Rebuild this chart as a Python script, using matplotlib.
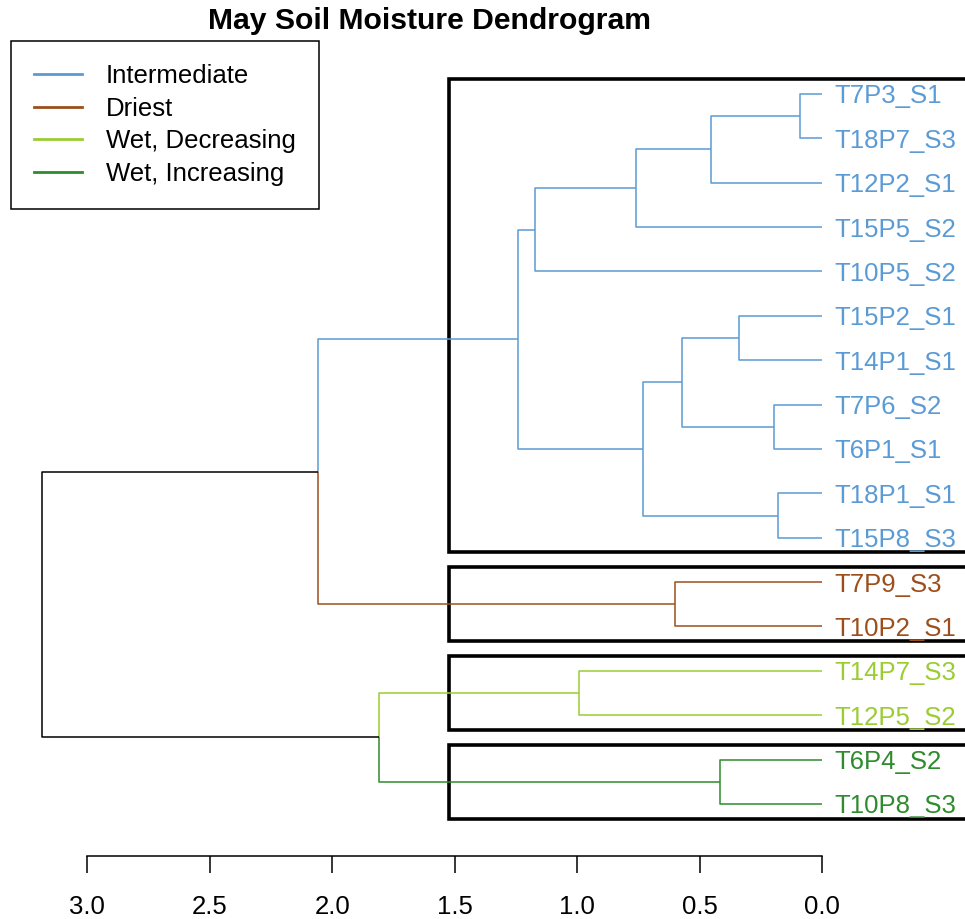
import matplotlib.pyplot as plt
from matplotlib.lines import Line2D
from matplotlib.patches import Rectangle

plt.rcParams['font.family'] = ['Liberation Sans', 'DejaVu Sans']

# leaves, top to bottom, as they sit in the dendrogram
labels = ["T7P3_S1", "T18P7_S3", "T12P2_S1", "T15P5_S2", "T10P5_S2",
          "T15P2_S1", "T14P1_S1", "T7P6_S2", "T6P1_S1", "T18P1_S1",
          "T15P8_S3", "T7P9_S3", "T10P2_S1", "T14P7_S3", "T12P5_S2",
          "T6P4_S2", "T10P8_S3"]
groups = [0] * 11 + [1] * 2 + [2] * 2 + [3] * 2
group_names = ["Intermediate", "Driest", "Wet, Decreasing", "Wet, Increasing"]
group_colors = ["#5B9BD5", "#9C4F1C", "#9ACD32", "#2E8B2E"]

# hclust style merge table: negative = leaf (1-based), positive = earlier step
merge_left = [-1, -10, -8, -6, -16, 1, 4, -12, 7, 6, -14, 10, 12, 11, 13, 15]
merge_right = [-2, -11, -9, -7, -17, -3, 3, -13, 2, -4, -15, -5, 9, 5, 8, 14]
heights = [0.09, 0.18, 0.195, 0.338, 0.415, 0.452, 0.573, 0.599, 0.731,
           0.76, 0.992, 1.172, 1.243, 1.807, 2.058, 3.184]
k = 4

fig = plt.figure(figsize=(9.65, 9.19), dpi=100)
ax = fig.add_axes([0, 0, 1, 1])
ax.set_xlim(3.3565, -0.584)
ax.set_ylim(18.592, -2.118)

node_y = {}
node_grp = {}


def info(ref):
    if ref < 0:
        i = -ref - 1
        return float(i), 0.0, groups[i]
    return node_y[ref], heights[ref - 1], node_grp[ref]


for m in range(1, len(heights) + 1):
    yl, hl, gl = info(merge_left[m - 1])
    yr, hr, gr = info(merge_right[m - 1])
    node_y[m] = (yl + yr) / 2
    node_grp[m] = gl if gl == gr else None
    h = heights[m - 1]
    for yc, hc, gc in [(yl, hl, gl), (yr, hr, gr)]:
        col = "black" if gc is None else group_colors[gc]
        ax.plot([h, h, hc], [node_y[m], yc, yc], color=col, lw=1.1,
                solid_capstyle='butt')

for i, lab in enumerate(labels):
    ax.annotate(lab, (0, i), xytext=(9, 0), textcoords='offset points',
                va='center_baseline', ha='left', fontsize=18.5,
                color=group_colors[groups[i]])

# boxes around the k clusters
hs = sorted(heights, reverse=True)
cut = (hs[k - 2] + hs[k - 1]) / 2
right_end = ax.get_xlim()[1] - 0.5
for g in range(k):
    idx = [i for i, gg in enumerate(groups) if gg == g]
    ax.add_patch(Rectangle((right_end, idx[0] - 0.34), cut - right_end,
                           idx[-1] - idx[0] + 0.67, fill=False,
                           edgecolor="black", lw=2.6))

# bottom axis, R style
for s in ["top", "left", "right"]:
    ax.spines[s].set_visible(False)
ax.spines["bottom"].set_position(("data", 17.165))
ax.spines["bottom"].set_bounds(0, 3)
ax.spines["bottom"].set_linewidth(1.1)
ax.set_xticks([3.0, 2.5, 2.0, 1.5, 1.0, 0.5, 0.0])
ax.set_xticklabels(["3.0", "2.5", "2.0", "1.5", "1.0", "0.5", "0.0"])
ax.tick_params(axis="x", direction="out", length=12.2, width=1.1,
               pad=16, labelsize=18.5)
ax.set_yticks([])

fig.text(429.5 / 965, 1 - 21 / 919, "May Soil Moisture Dendrogram",
         ha="center", va="center", fontsize=21.7, fontweight="bold")

handles = [Line2D([], [], color=c, lw=2) for c in group_colors]
leg = ax.legend(handles, group_names, loc="upper left",
                bbox_to_anchor=(11 / 965, 1 - 41 / 919),
                bbox_transform=fig.transFigure, borderaxespad=0,
                fancybox=False, edgecolor="black", framealpha=1,
                fontsize=18.5, handlelength=1.85, handletextpad=0.95,
                labelspacing=0.33, borderpad=0.9)
leg.get_frame().set_linewidth(1.1)

fig.savefig("out.png", dpi=100)
